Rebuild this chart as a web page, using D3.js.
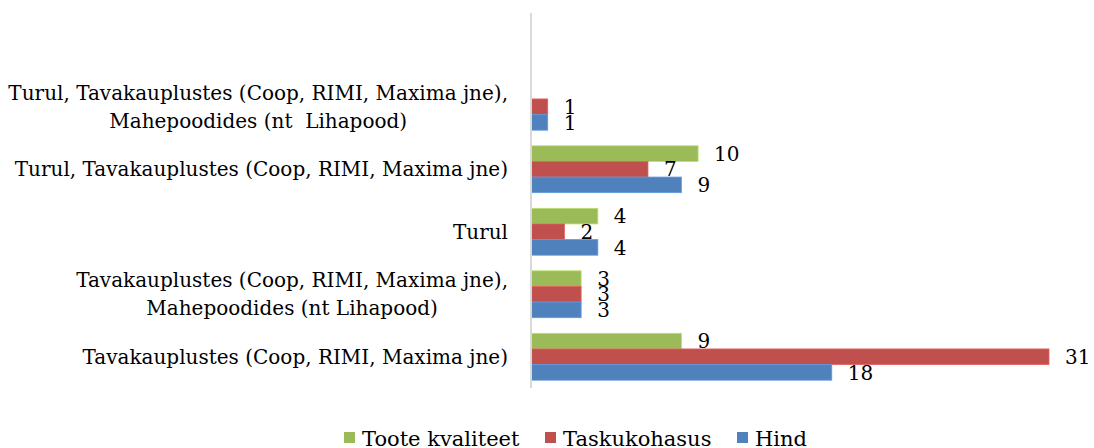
<!DOCTYPE html>
<html>
<head>
<meta charset="utf-8">
<script src="https://cdn.jsdelivr.net/npm/d3@7"></script>
<style>
  body { margin: 0; background: #fff; }
  svg text { font-family: "DejaVu Serif", "Liberation Serif", serif; fill: #000; white-space: pre; }
</style>
</head>
<body>
<div id="chart"></div>
<script>
// categories, top to bottom (first one is an empty slot, as in the source)
var categories = [
  [""],
  ["Turul, Tavakauplustes (Coop, RIMI, Maxima jne),", "Mahepoodides (nt  Lihapood)"],
  ["Turul, Tavakauplustes (Coop, RIMI, Maxima jne)"],
  ["Turul"],
  ["Tavakauplustes (Coop, RIMI, Maxima jne),", "Mahepoodides (nt Lihapood)"],
  ["Tavakauplustes (Coop, RIMI, Maxima jne)"]
];
var seriesNames = ["Toote kvaliteet", "Taskukohasus", "Hind"];
var seriesColors = ["#9BBB59", "#C0504D", "#4F81BD"];
var kvaliteet = [null, null, 10, 4, 3, 9];
var taskukohasus = [null, 1, 7, 2, 3, 31];
var hind = [null, 1, 9, 4, 3, 18];
var seriesValues = [kvaliteet, taskukohasus, hind];

var width = 1094, height = 448;
var margin = {top: 13, right: 45, bottom: 60, left: 531};

var svg = d3.select("#chart").append("svg")
  .attr("width", width).attr("height", height);

var x = d3.scaleLinear()
  .domain([0, 31])
  .range([margin.left, 1049]);

var y = d3.scaleBand()
  .domain(d3.range(categories.length))
  .range([margin.top, 388])
  .paddingInner(0.25)
  .paddingOuter(0.125);

var ySub = d3.scaleBand()
  .domain(d3.range(seriesNames.length))
  .range([0, y.bandwidth()]);

// bars
var rows = [];
seriesValues.forEach(function(vals, s) {
  vals.forEach(function(v, i) {
    if (v != null) rows.push({s: s, i: i, v: v});
  });
});

svg.append("g").selectAll("rect")
  .data(rows)
  .enter().append("rect")
    .attr("x", x(0))
    .attr("y", function(d) { return y(d.i) + ySub(d.s); })
    .attr("width", function(d) { return x(d.v) - x(0); })
    .attr("height", ySub.bandwidth())
    .attr("fill", function(d) { return seriesColors[d.s]; })
    .attr("stroke", function(d) { return d3.color(seriesColors[d.s]).brighter(0.5); })
    .attr("stroke-width", 0.8);

// value labels
svg.append("g").selectAll("text")
  .data(rows)
  .enter().append("text")
    .attr("x", function(d) { return x(d.v) + 16; })
    .attr("y", function(d) { return y(d.i) + ySub(d.s) + ySub.bandwidth() / 2; })
    .attr("dy", "0.36em")
    .style("font-size", "20px")
    .text(function(d) { return d.v; });

// axis line
svg.append("line")
  .attr("x1", x(0)).attr("x2", x(0))
  .attr("y1", margin.top).attr("y2", 388)
  .attr("stroke", "#d9d9d9").attr("stroke-width", 2);

// category labels (multi-line centred on each other, right edge at 508)
var labelRight = 508, lineH = 28;
categories.forEach(function(lines, i) {
  var g = svg.append("g");
  var texts = g.selectAll("text").data(lines).enter().append("text")
    .style("font-size", "20px")
    .attr("dy", "0.36em")
    .text(function(d) { return d; });
  var w = 0;
  texts.each(function() { w = Math.max(w, this.getComputedTextLength()); });
  var cy = y(i) + y.bandwidth() / 2;
  texts
    .attr("text-anchor", "middle")
    .attr("x", labelRight - w / 2)
    .attr("y", function(d, k) { return cy + (k - (lines.length - 1) / 2) * lineH; });
});

// legend
var legendX = [344, 545, 737];
var legend = svg.append("g").selectAll("g")
  .data(seriesNames)
  .enter().append("g")
    .attr("transform", function(d, k) { return "translate(" + legendX[k] + ",0)"; });
legend.append("rect")
  .attr("x", 0).attr("y", 432).attr("width", 11).attr("height", 11)
  .attr("fill", function(d, k) { return seriesColors[k]; });
legend.append("text")
  .attr("x", 18).attr("y", 446)
  .style("font-size", "21px")
  .text(function(d) { return d; });
</script>
</body>
</html>
